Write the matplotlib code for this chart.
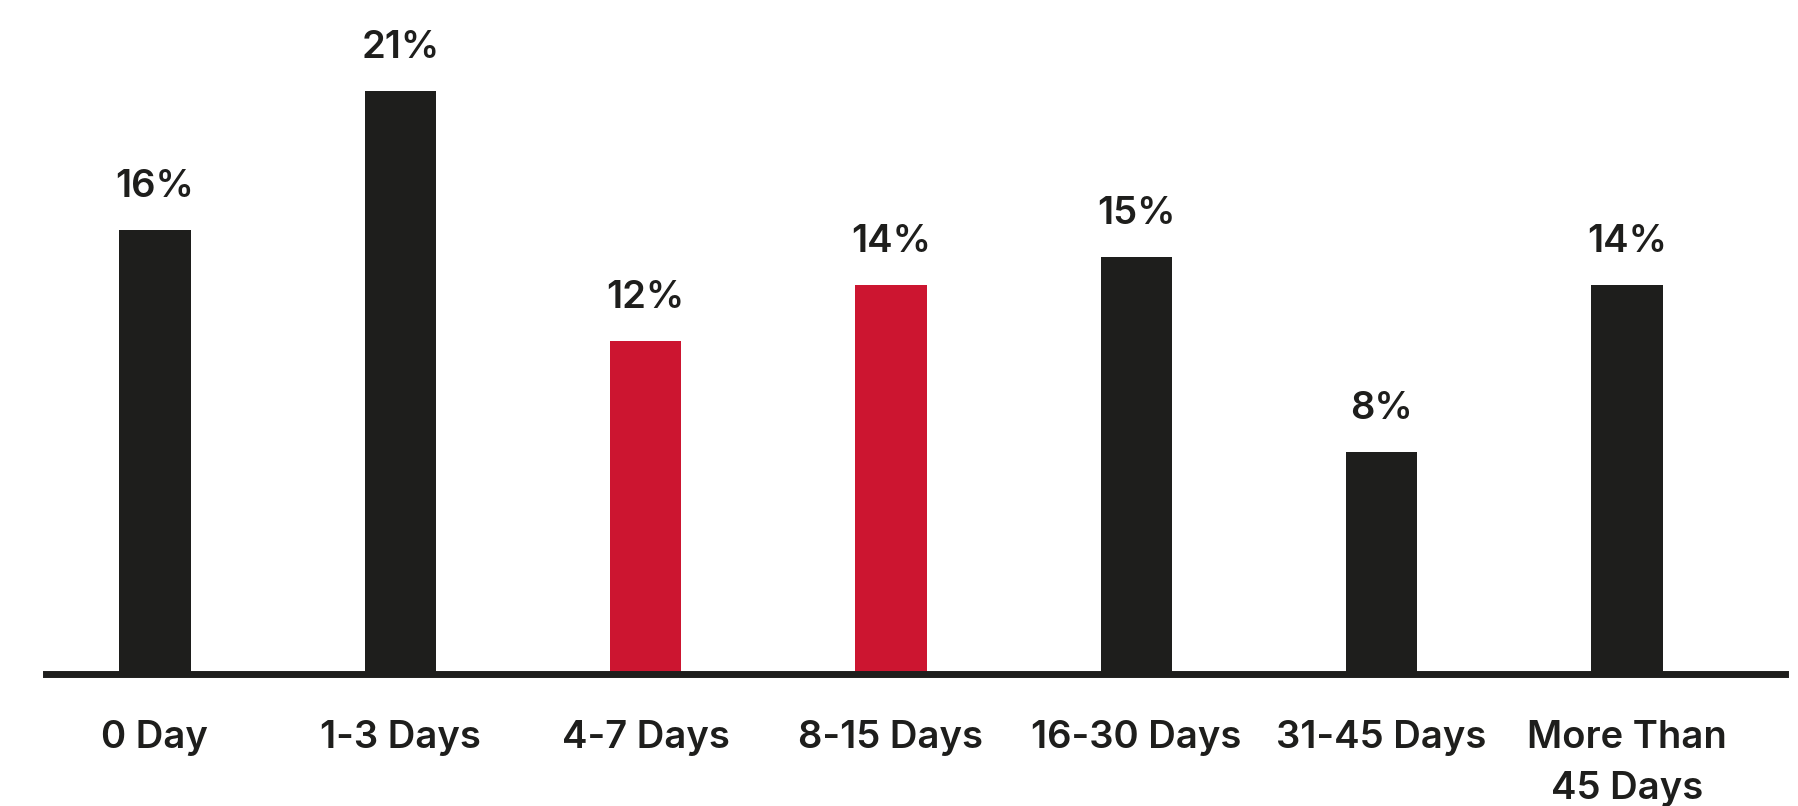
import matplotlib
matplotlib.use("Agg")
import matplotlib.pyplot as plt

categories = ["0 Day", "1-3 Days", "4-7 Days", "8-15 Days", "16-30 Days", "31-45 Days", "More Than\n45 Days"]
values = [16, 21, 12, 14, 15, 8, 14]
highlight = [False, False, True, True, False, False, False]

DARK = "#1e1e1c"
RED = "#cc1530"
FONT = ["Inter", "DejaVu Sans"]
WEIGHT = 600
SIZE = 27.5

W, H, DPI = 1799, 806, 100
fig = plt.figure(figsize=(W / DPI, H / DPI), dpi=DPI)
base_px = 674
ax = fig.add_axes([46 / W, (H - base_px) / H, (1785 - 46) / W, base_px / H])

x = list(range(len(categories)))
colors = [RED if h else DARK for h in highlight]
ax.bar(x, values, width=0.29, color=colors, zorder=2)

for xi, v in zip(x, values):
    ax.annotate(f"{v}%", (xi, v), xytext=(0, 18), textcoords="offset points",
                ha="center", va="bottom", fontsize=SIZE, fontweight=WEIGHT,
                color=DARK, family=FONT)

ax.set_xlim(-0.444, 6.644)
ax.set_ylim(0, 24.27)
ax.set_xticks(x)
ax.set_xticklabels(categories, fontsize=SIZE, fontweight=WEIGHT, color=DARK,
                   family=FONT, linespacing=1.55)
ax.tick_params(axis="x", length=0, pad=33)
ax.set_yticks([])
for s in ("left", "right", "top"):
    ax.spines[s].set_visible(False)
ax.spines["bottom"].set_linewidth(5)
ax.spines["bottom"].set_color(DARK)
ax.spines["bottom"].set_zorder(3)

fig.savefig("out.png", dpi=DPI)
